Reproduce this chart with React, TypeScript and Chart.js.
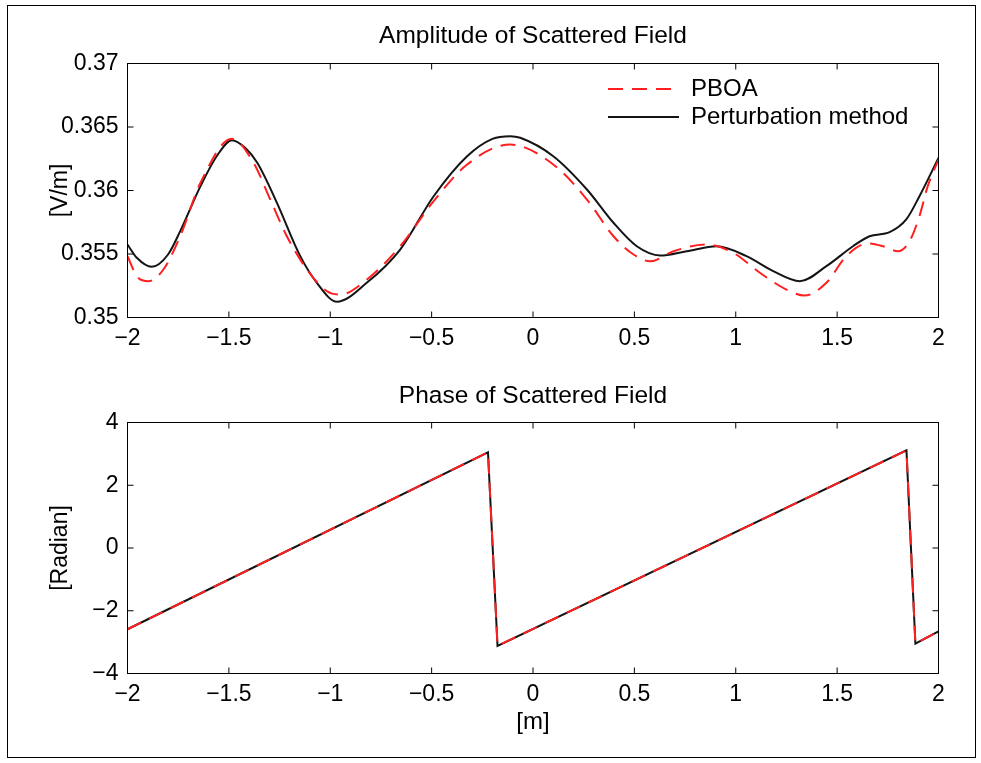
import React, { useEffect, useRef } from 'react';
import { Chart, registerables } from 'chart.js';

Chart.register(...registerables);

// ---------- tick values & labels ----------
const xTicks = [-2, -1.5, -1, -0.5, 0, 0.5, 1, 1.5, 2];
const xTickLabels = ['\u22122', '\u22121.5', '\u22121', '\u22120.5', '0', '0.5', '1', '1.5', '2'];
const ampTicks = [0.35, 0.355, 0.36, 0.365, 0.37];
const ampTickLabels = ['0.35', '0.355', '0.36', '0.365', '0.37'];
const phaseTicks = [-4, -2, 0, 2, 4];
const phaseTickLabels = ['\u22124', '\u22122', '0', '2', '4'];

// ---------- amplitude (top) ----------
const pboaAmpX = [-2.0, -1.954, -1.897, -1.823, -1.74, -1.64, -1.485, -1.378, -1.296, -1.214, -1.115, -1.016, -0.951, -0.819, -0.655, -0.49, -0.325, -0.112, 0.1, 0.266, 0.397, 0.496, 0.578, 0.693, 0.857, 0.988, 1.119, 1.25, 1.34, 1.447, 1.545, 1.652, 1.726, 1.8, 1.857, 1.906, 1.947, 2.0];
const pboaAmpY = [0.35483, 0.35325, 0.35286, 0.35378, 0.3564, 0.36061, 0.36407, 0.36218, 0.35929, 0.3564, 0.35378, 0.35207, 0.35181, 0.35299, 0.35561, 0.35916, 0.36205, 0.36362, 0.36205, 0.35929, 0.3564, 0.35496, 0.35443, 0.35522, 0.35575, 0.35509, 0.35352, 0.3522, 0.35173, 0.35273, 0.35483, 0.35583, 0.35561, 0.35522, 0.35601, 0.35798, 0.36034, 0.36244];

const pertAmpX = [-2.0, -1.954, -1.88, -1.8, -1.74, -1.64, -1.56, -1.485, -1.42, -1.36, -1.263, -1.148, -1.066, -0.967, -0.82, -0.655, -0.49, -0.325, -0.2, -0.112, -0.063, 0.1, 0.266, 0.397, 0.512, 0.627, 0.758, 0.906, 1.053, 1.185, 1.316, 1.447, 1.578, 1.66, 1.759, 1.841, 1.906, 2.0];
const pertAmpY = [0.35575, 0.3547, 0.35399, 0.35496, 0.3568, 0.36034, 0.3627, 0.36396, 0.36336, 0.36218, 0.35903, 0.35483, 0.35273, 0.35124, 0.35273, 0.35535, 0.35955, 0.3627, 0.36407, 0.36428, 0.36415, 0.3627, 0.36008, 0.35746, 0.35561, 0.35488, 0.35522, 0.35561, 0.35483, 0.35365, 0.35286, 0.35404, 0.35561, 0.3564, 0.35672, 0.35772, 0.35955, 0.36257];

// ---------- phase (bottom) ----------
const pboaPhaseX = [-2.0, -0.222, -0.175, 1.842, 1.886, 2.0];
const pboaPhaseY = [-2.59, 3.05, -3.12, 3.11, -3.05, -2.66];
const pertPhaseX = [-2.0, -0.222, -0.175, 1.842, 1.886, 2.0];
const pertPhaseY = [-2.59, 3.05, -3.12, 3.11, -3.05, -2.66];

const FONT = '"Liberation Sans", Arial, Helvetica, sans-serif';
const RED = '#ff1f1f';
const BLACK = '#141414';
const DASH = [15, 9];

const toPts = (xs: number[], ys: number[]) => xs.map((x, i) => ({ x, y: ys[i] }));

const labelFor = (vals: number[], labels: string[]) => (v: any) => {
  const i = vals.findIndex((t) => Math.abs(t - Number(v)) < 1e-9);
  return i >= 0 ? labels[i] : '';
};

const framePlugin = {
  id: 'matlabFrame',
  afterDatasetsDraw(chart: any) {
    const { ctx, chartArea: a, scales } = chart;
    const tl = 6;
    ctx.save();
    ctx.strokeStyle = '#000';
    ctx.lineWidth = 1;
    ctx.setLineDash([]);
    ctx.strokeRect(a.left, a.top, a.right - a.left, a.bottom - a.top);
    ctx.beginPath();
    scales.x.ticks.forEach((t: any) => {
      const px = scales.x.getPixelForValue(t.value);
      ctx.moveTo(px, a.bottom);
      ctx.lineTo(px, a.bottom - tl);
      ctx.moveTo(px, a.top);
      ctx.lineTo(px, a.top + tl);
    });
    scales.y.ticks.forEach((t: any) => {
      const py = scales.y.getPixelForValue(t.value);
      ctx.moveTo(a.left, py);
      ctx.lineTo(a.left + tl, py);
      ctx.moveTo(a.right, py);
      ctx.lineTo(a.right - tl, py);
    });
    ctx.stroke();
    ctx.restore();
  },
};

const legendPlacePlugin = {
  id: 'legendPlace',
  afterLayout(chart: any) {
    const l = chart.legend;
    if (!l) return;
    l.left = 604;
    l.right = 938.5;
    l.top = 73;
    l.bottom = 317.5;
  },
};

function baseX(height: number, tickPad: number, title?: any) {
  return {
    type: 'linear',
    min: -2,
    max: 2,
    afterBuildTicks: (s: any) => {
      s.ticks = xTicks.map((v) => ({ value: v }));
    },
    afterFit: (s: any) => {
      s.height = height;
      s.paddingLeft = 0;
      s.paddingRight = 0;
    },
    ticks: {
      callback: labelFor(xTicks, xTickLabels),
      font: { size: 23, family: FONT },
      color: '#000',
      padding: tickPad,
      maxRotation: 0,
      autoSkip: false,
    },
    grid: { display: false, drawTicks: false },
    border: { display: false },
    title: title || { display: false },
  };
}

function baseY(min: number, max: number, vals: number[], labels: string[], text: string) {
  return {
    type: 'linear',
    min,
    max,
    afterBuildTicks: (s: any) => {
      s.ticks = vals.map((v) => ({ value: v }));
    },
    afterFit: (s: any) => {
      s.width = 127.5;
      s.paddingTop = 0;
      s.paddingBottom = 0;
    },
    ticks: {
      callback: labelFor(vals, labels),
      font: { size: 23, family: FONT },
      color: '#000',
      padding: 9,
      autoSkip: false,
    },
    grid: { display: false, drawTicks: false },
    border: { display: false },
    title: {
      display: true,
      text,
      font: { size: 23, family: FONT },
      color: '#000',
      padding: { top: 47, bottom: 0 },
    },
  };
}

function AmpChart() {
  const ref = useRef<HTMLCanvasElement>(null);
  useEffect(() => {
    if (!ref.current) return;
    const chart = new Chart(ref.current, {
      type: 'line',
      data: {
        datasets: [
          {
            label: 'PBOA',
            data: toPts(pboaAmpX, pboaAmpY),
            borderColor: RED,
            backgroundColor: RED,
            borderWidth: 2,
            borderDash: DASH,
            pointRadius: 0,
            cubicInterpolationMode: 'monotone',
            fill: false,
          },
          {
            label: 'Perturbation method',
            data: toPts(pertAmpX, pertAmpY),
            borderColor: BLACK,
            backgroundColor: BLACK,
            borderWidth: 2,
            pointRadius: 0,
            cubicInterpolationMode: 'monotone',
            fill: false,
          },
        ],
      },
      options: {
        animation: false,
        responsive: false,
        events: [],
        layout: { padding: { left: 0, right: 42.5, top: 0, bottom: 0 }, autoPadding: false },
        scales: {
          x: baseX(52.5, 7) as any,
          y: baseY(0.35, 0.37, ampTicks, ampTickLabels, '[V/m]') as any,
        },
        plugins: {
          title: {
            display: true,
            fullSize: false,
            text: 'Amplitude of Scattered Field',
            font: { size: 24.5, family: FONT, weight: 'normal' },
            color: '#000',
            padding: { top: 21.3, bottom: 12.8 },
          },
          legend: {
            display: true,
            position: 'chartArea',
            align: 'start',
            labels: {
              usePointStyle: true,
              pointStyle: 'line',
              pointStyleWidth: 71,
              boxHeight: 10,
              padding: 4,
              color: '#000',
              font: { size: 24, family: FONT },
              generateLabels: (ch: any) =>
                ch.data.datasets.map((ds: any, i: number) => ({
                  text: ds.label,
                  fillStyle: ds.borderColor,
                  strokeStyle: ds.borderColor,
                  lineWidth: 2,
                  lineDash: ds.borderDash || [],
                  lineDashOffset: 0,
                  lineCap: 'butt',
                  pointStyle: 'line',
                  hidden: false,
                  fontColor: '#000',
                  datasetIndex: i,
                })),
            },
          },
          tooltip: { enabled: false },
        },
      } as any,
      plugins: [framePlugin, legendPlacePlugin],
    });
    return () => chart.destroy();
  }, []);
  return (
    <canvas
      ref={ref}
      width={981}
      height={370}
      style={{ position: 'absolute', left: 0, top: 0, width: 981, height: 370, display: 'block' }}
    />
  );
}

function PhaseChart() {
  const ref = useRef<HTMLCanvasElement>(null);
  useEffect(() => {
    if (!ref.current) return;
    const chart = new Chart(ref.current, {
      type: 'line',
      data: {
        datasets: [
          {
            label: 'PBOA',
            data: toPts(pboaPhaseX, pboaPhaseY),
            borderColor: RED,
            borderWidth: 2,
            borderDash: DASH,
            pointRadius: 0,
            tension: 0,
            fill: false,
          },
          {
            label: 'Perturbation method',
            data: toPts(pertPhaseX, pertPhaseY),
            borderColor: BLACK,
            borderWidth: 2,
            pointRadius: 0,
            tension: 0,
            fill: false,
          },
        ],
      },
      options: {
        animation: false,
        responsive: false,
        events: [],
        layout: { padding: { left: 0, right: 42.5, top: 0, bottom: 0 }, autoPadding: false },
        scales: {
          x: baseX(89.5, 7, {
            display: true,
            text: '[m]',
            font: { size: 24, family: FONT },
            color: '#000',
            padding: { top: 0, bottom: 26.6 },
          }) as any,
          y: baseY(-4, 4, phaseTicks, phaseTickLabels, '[Radian]') as any,
        },
        plugins: {
          title: {
            display: true,
            fullSize: false,
            text: 'Phase of Scattered Field',
            font: { size: 24.5, family: FONT, weight: 'normal' },
            color: '#000',
            padding: { top: 11.8, bottom: 11.3 },
          },
          legend: { display: false },
          tooltip: { enabled: false },
        },
      } as any,
      plugins: [framePlugin],
    });
    return () => chart.destroy();
  }, []);
  return (
    <canvas
      ref={ref}
      width={981}
      height={393}
      style={{ position: 'absolute', left: 0, top: 370, width: 981, height: 393, display: 'block' }}
    />
  );
}

export default function App() {
  return (
    <div style={{ position: 'absolute', left: 0, top: 0, width: 981, height: 763, background: '#fff', overflow: 'hidden' }}>
      <div
        style={{
          position: 'absolute',
          left: 7,
          top: 5,
          width: 969,
          height: 753,
          border: '1px solid #000',
          boxSizing: 'border-box',
        }}
      />
      <AmpChart />
      <PhaseChart />
    </div>
  );
}
